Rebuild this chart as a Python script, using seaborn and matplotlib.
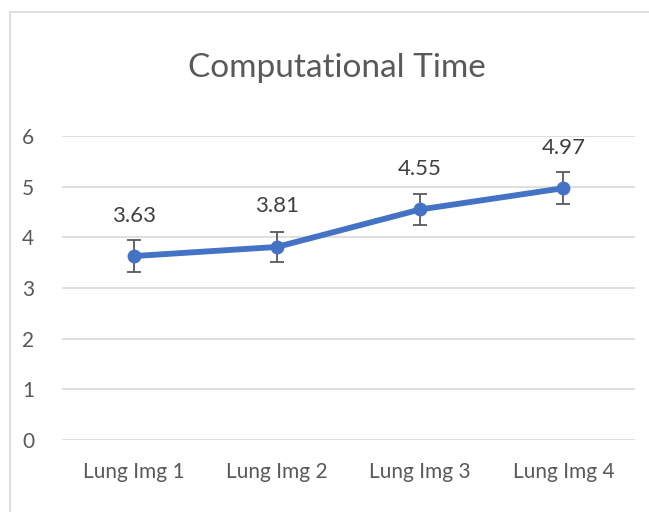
import matplotlib
matplotlib.use("Agg")
import matplotlib.pyplot as plt
import seaborn as sns
import pandas as pd
from matplotlib.patches import Rectangle

categories = ["Lung Img 1", "Lung Img 2", "Lung Img 3", "Lung Img 4"]
times = [3.63, 3.81, 4.55, 4.97]
errors = [0.32, 0.30, 0.30, 0.32]
yticks = [0, 1, 2, 3, 4, 5, 6]

sns.set_theme(style="white")
plt.rcParams['font.family'] = ['Lato', 'DejaVu Sans']

df = pd.DataFrame({"cat": categories, "x": range(len(categories)), "t": times, "e": errors})

fig = plt.figure(figsize=(6.49, 5.12), dpi=100)
fig.patches.append(Rectangle((10/649, -0.1), 1.2, 1 - 12/512 + 0.1, transform=fig.transFigure,
                             fill=False, edgecolor="#d9d9d9", linewidth=1.2))
ax = fig.add_axes([62/649, 72/512, (635-62)/649, (376-72)/512])

ax.errorbar(df["x"], df["t"], yerr=df["e"], fmt="none", ecolor="#595959", elinewidth=1.3,
            capsize=5, capthick=1.3, zorder=2)
sns.lineplot(data=df, x="x", y="t", ax=ax, color="#4472C4", linewidth=4.2, marker="o",
             markersize=10, markeredgewidth=0, zorder=3)

for xi, yi in zip(df["x"], df["t"]):
    ax.annotate(f"{yi:.2f}", (xi, yi), xytext=(0, 22), textcoords="offset points",
                ha="center", va="bottom", fontsize=16, color="#404040")

ax.set_xlim(-0.5, len(categories) - 0.5)
ax.set_ylim(0, 6)
ax.set_yticks(yticks)
ax.set_xticks(list(df["x"]))
ax.set_xticklabels(categories)
ax.grid(axis="y", color="#d9d9d9", linewidth=1.2)
ax.set_axisbelow(True)
for s in ax.spines.values():
    s.set_visible(False)
ax.tick_params(axis="both", length=0, labelsize=15, labelcolor="#595959")
ax.tick_params(axis="y", pad=20)
ax.tick_params(axis="x", pad=16)
ax.set_xlabel("")
ax.set_ylabel("")
fig.text(337/649, 1 - 68/512, "Computational Time", ha="center", va="center",
         fontsize=24, color="#595959")

fig.savefig("out.png", dpi=100)
